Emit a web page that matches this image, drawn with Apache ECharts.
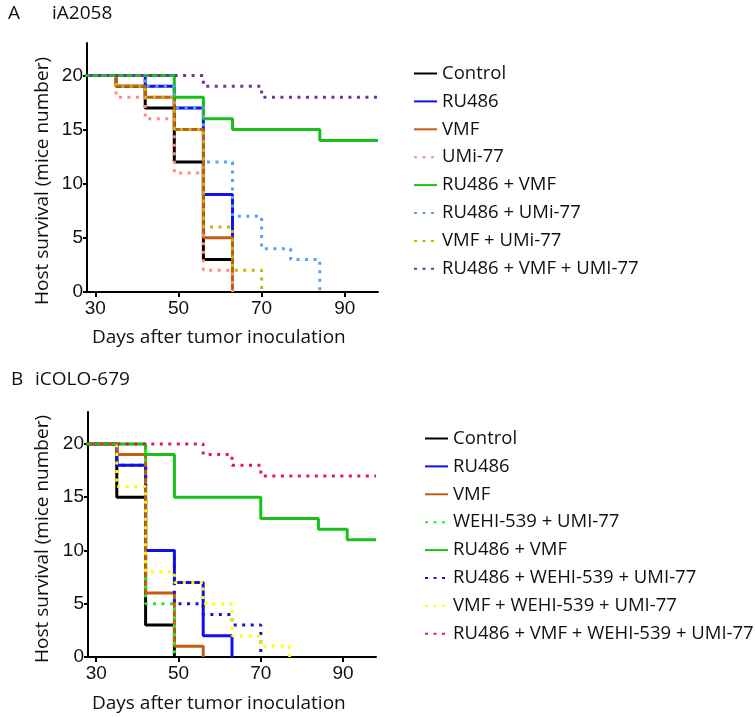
<!DOCTYPE html>
<html>
<head>
<meta charset="utf-8">
<script src="https://cdn.jsdelivr.net/npm/echarts@6/dist/echarts.min.js"></script>
<style>
html,body{margin:0;padding:0;background:#fff;}
#chart{width:755px;height:717px;}
</style>
</head>
<body>
<div id="chart"></div>
<script>
// ---------- tick labels ----------
const xTicks = [30, 50, 70, 90];
const yTicks = [0, 5, 10, 15, 20];

// ---------- Panel A: iA2058 (day, mice alive) ----------
const aNames = ['Control', 'RU486', 'VMF', 'UMi-77', 'RU486 + VMF', 'RU486 + UMi-77', 'VMF + UMi-77', 'RU486 + VMF + UMI-77'];
const aControl = [[0,20],[35,19],[42,17],[49,12],[56,3],[63,0]];
const aRU486   = [[0,20],[42,19],[49,17],[56,9],[63,0]];
const aVMF     = [[0,20],[35,19],[42,18],[49,15],[56,5],[63,0]];
const aUMi     = [[0,20],[35,18],[42,16],[49,11],[56,2],[63,0]];
const aRUVMF   = [[0,20],[49,18],[56,16],[63,15],[84,14],[98,14]];
const aRUUMi   = [[0,20],[42,19],[49,17],[56,12],[63,7],[70,4],[77,3],[84,0]];
const aVMFUMi  = [[0,20],[35,19],[42,18],[49,15],[56,6],[63,2],[70,0]];
const aTriple  = [[0,20],[56,19],[70,18],[98,18]];

// ---------- Panel B: iCOLO-679 ----------
const bNames = ['Control', 'RU486', 'VMF', 'WEHI-539 + UMI-77', 'RU486 + VMF', 'RU486 + WEHI-539 + UMI-77', 'VMF + WEHI-539 + UMI-77', 'RU486 + VMF + WEHI-539 + UMI-77'];
const bControl  = [[0,20],[35,15],[42,3],[49,0]];
const bRU486    = [[0,20],[35,18],[42,10],[49,7],[56,2],[63,0]];
const bVMF      = [[0,20],[35,19],[42,6],[49,1],[56,0]];
const bWEHIUMI  = [[0,20],[42,5],[49,0]];
const bRUVMF    = [[0,20],[42,19],[49,15],[70,13],[84,12],[91,11],[98,11]];
const bRUWEHI   = [[0,20],[35,18],[42,10],[49,5],[56,4],[63,3],[70,0]];
const bVMFWEHI  = [[0,20],[35,16],[42,8],[49,7],[56,5],[63,2],[70,1],[77,0]];
const bQuad     = [[0,20],[56,19],[63,18],[70,17],[98,17]];

const aData = [aControl, aRU486, aVMF, aUMi, aRUVMF, aRUUMi, aVMFUMi, aTriple];
const bData = [bControl, bRU486, bVMF, bWEHIUMI, bRUVMF, bRUWEHI, bVMFWEHI, bQuad];

const aColors = ['#000000', '#1010f0', '#c55a11', '#ff8a80', '#19c019', '#5aa0f5', '#c2b800', '#7030a0'];
const aDotted = [false, false, false, true, false, true, true, true];
const bColors = ['#000000', '#1010f0', '#c55a11', '#22f022', '#19c019', '#1515d0', '#ffff00', '#e0195a'];
const bDotted = [false, false, false, true, false, true, true, true];

const FONT = '"Open Sans", sans-serif';
const NUMFONT = '"Liberation Sans", Arial, sans-serif';

function makeSeries(names, data, colors, dotted, gi) {
  const out = [];
  const order = names.map((n, i) => i).sort((a, b) => (dotted[a] ? 1 : 0) - (dotted[b] ? 1 : 0));
  order.forEach(i => {
    out.push({
      type: 'line',
      name: names[i],
      xAxisIndex: gi,
      yAxisIndex: gi,
      step: 'end',
      data: data[i],
      symbol: 'none',
      showSymbol: false,
      clip: true,
      lineStyle: {
        color: colors[i],
        width: 3,
        type: dotted[i] ? [3, 5.5] : 'solid',
        cap: 'butt'
      },
      itemStyle: { color: colors[i] },
      z: dotted[i] ? 3 : 2
    });
  });
  return out;
}

function xAxisCfg(gi) {
  return {
    type: 'value', gridIndex: gi, min: 28, max: 98,
    axisLine: { show: true, onZero: false, lineStyle: { color: '#000', width: 2 } },
    axisTick: { show: true, length: 5, lineStyle: { color: '#000', width: 2 }, customValues: xTicks },
    axisLabel: { show: true, margin: 7, color: '#111', fontSize: 19, fontFamily: NUMFONT, customValues: xTicks },
    splitLine: { show: false }
  };
}
function yAxisCfg(gi) {
  return {
    type: 'value', gridIndex: gi, min: 0, max: 23,
    axisLine: { show: true, onZero: false, lineStyle: { color: '#000', width: 2 } },
    axisTick: { show: true, length: 4, lineStyle: { color: '#000', width: 2 }, customValues: yTicks },
    axisLabel: { show: true, margin: 4, color: '#111', fontSize: 19, fontFamily: NUMFONT, customValues: yTicks },
    splitLine: { show: false }
  };
}

function legendCfg(names, left, top) {
  return {
    data: names,
    orient: 'vertical',
    left: left, top: top,
    padding: 0,
    itemWidth: 23, itemHeight: 14, itemGap: 8.9,
    selectedMode: false,
    itemStyle: { opacity: 0, borderWidth: 0 },
    textStyle: { fontFamily: FONT, fontSize: 18.5, color: '#111', lineHeight: 18 }
  };
}

const chart = echarts.init(document.getElementById('chart'), null, { renderer: 'canvas' });
const textStyleBase = { fontFamily: FONT, fill: '#111' };

chart.setOption({
  animation: false,
  backgroundColor: '#fff',
  grid: [
    { left: 87, top: 43, width: 291, height: 249 },
    { left: 88, top: 412, width: 288, height: 245 }
  ],
  xAxis: [xAxisCfg(0), xAxisCfg(1)],
  yAxis: [yAxisCfg(0), yAxisCfg(1)],
  legend: [legendCfg(aNames, 413, 64), legendCfg(bNames, 424, 429)],
  series: makeSeries(aNames, aData, aColors, aDotted, 0).concat(makeSeries(bNames, bData, bColors, bDotted, 1)),
  graphic: [
    { type: 'text', left: 8, top: 4, style: Object.assign({ text: 'A', fontSize: 19 }, textStyleBase) },
    { type: 'text', left: 52, top: 4, style: Object.assign({ text: 'iA2058', fontSize: 19 }, textStyleBase) },
    { type: 'text', left: 11, top: 370, style: Object.assign({ text: 'B', fontSize: 19 }, textStyleBase) },
    { type: 'text', left: 35, top: 370, style: Object.assign({ text: 'iCOLO-679', fontSize: 19 }, textStyleBase) },
    { type: 'text', x: 43, y: 181, rotation: Math.PI / 2,
      style: Object.assign({ text: 'Host survival (mice number)', fontSize: 19, align: 'center', verticalAlign: 'middle' }, textStyleBase) },
    { type: 'text', x: 43, y: 539, rotation: Math.PI / 2,
      style: Object.assign({ text: 'Host survival (mice number)', fontSize: 19, align: 'center', verticalAlign: 'middle' }, textStyleBase) },
    { type: 'text', x: 92, y: 328,
      style: Object.assign({ text: 'Days after tumor inoculation', fontSize: 19, align: 'left', verticalAlign: 'top' }, textStyleBase) },
    { type: 'text', x: 92, y: 694,
      style: Object.assign({ text: 'Days after tumor inoculation', fontSize: 19, align: 'left', verticalAlign: 'top' }, textStyleBase) }
  ]
});
</script>
</body>
</html>
